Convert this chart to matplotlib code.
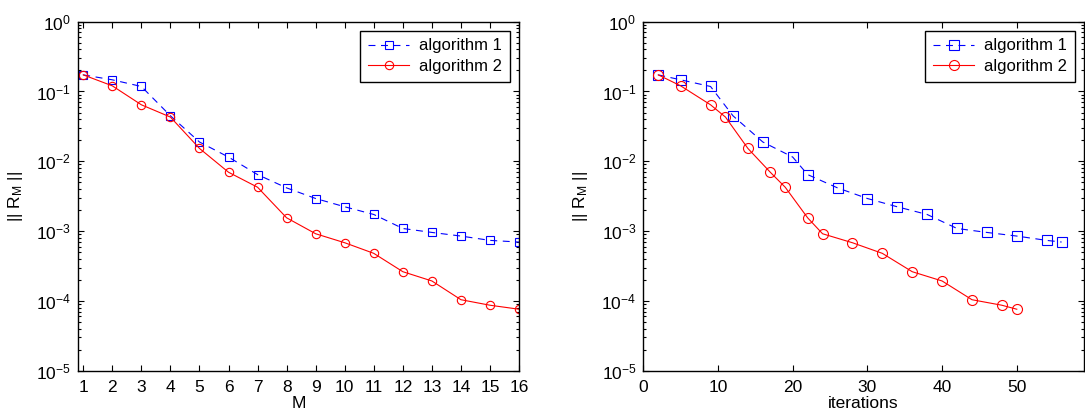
import numpy as np
import matplotlib
matplotlib.use('Agg')
import matplotlib.pyplot as plt

plt.rcParams['font.family'] = ['Liberation Sans', 'DejaVu Sans']
plt.rcParams['mathtext.fontset'] = 'custom'
plt.rcParams['mathtext.rm'] = 'Liberation Sans'
plt.rcParams['mathtext.it'] = 'Liberation Sans:italic'
plt.rcParams['mathtext.bf'] = 'Liberation Sans:bold'
plt.rcParams['lines.scale_dashes'] = False

# residual norms
M_vals = list(range(1, 17))
res_alg1 = [0.173, 0.147, 0.118, 0.0449, 0.0189, 0.0115, 0.00645, 0.00416,
            0.00293, 0.00223, 0.00173, 0.00109, 0.000957, 0.000849, 0.000736, 0.000697]
res_alg2 = [0.173, 0.1205, 0.0645, 0.043, 0.0153, 0.00697, 0.00425, 0.00155,
            0.000916, 0.000681, 0.00048, 0.000262, 0.000193, 0.000104, 0.0000867, 0.000076]

# iteration counts for the right panel
iters_alg1 = [2, 5, 9, 12, 16, 20, 22, 26, 30, 34, 38, 42, 46, 50, 54, 56]
iters_alg2 = [2, 5, 9, 11, 14, 17, 19, 22, 24, 28, 32, 36, 40, 44, 48, 50]

labels = ['algorithm 1', 'algorithm 2']
FS = 12.5
LEG_FS = 12


def style_axis(ax):
    ax.set_yscale('log')
    ax.set_ylim(1e-5, 1)
    ax.set_yticks([1e-5, 1e-4, 1e-3, 1e-2, 1e-1, 1])
    ax.tick_params(which='both', direction='in', top=True, right=True,
                   labelsize=FS, width=0.8, pad=5)
    ax.tick_params(axis='x', pad=6.5)
    ax.tick_params(which='major', length=4)
    ax.tick_params(which='minor', length=2)
    ax.minorticks_on()
    ax.xaxis.set_minor_locator(matplotlib.ticker.NullLocator())
    for s in ax.spines.values():
        s.set_linewidth(1.0)
    ax.set_ylabel(r'|| R$_\mathrm{M}$ ||', fontsize=FS, labelpad=8)
    leg = ax.legend(loc='upper right', fontsize=LEG_FS, fancybox=False,
                    framealpha=1, edgecolor='black', handlelength=2.5,
                    handletextpad=0.6, labelspacing=0.35, borderpad=0.45,
                    borderaxespad=0.55)
    leg.get_frame().set_linewidth(1.0)


fig = plt.figure(figsize=(10.85, 4.17), dpi=100)
ax1 = fig.add_axes([0.0719, 0.111, 0.4065, 0.837])
ax2 = fig.add_axes([0.5929, 0.111, 0.4062, 0.837])

ax1.plot(M_vals, res_alg1, color='blue', linestyle='--', dashes=(5, 4),
         marker='s', markersize=5.2, markerfacecolor='none', linewidth=0.8,
         markeredgewidth=0.8, label=labels[0])
ax1.plot(M_vals, res_alg2, color='red', linestyle='-', marker='o',
         markersize=6, markerfacecolor='none', linewidth=0.8,
         markeredgewidth=0.8, label=labels[1])
ax1.set_xlim(0.82, 16)
ax1.set_xticks(M_vals)
ax1.set_xlabel('M', fontsize=FS, labelpad=1)
style_axis(ax1)

ax2.plot(iters_alg1, res_alg1, color='blue', linestyle='--', dashes=(5, 4),
         marker='s', markersize=6.8, markerfacecolor='none', linewidth=0.8,
         markeredgewidth=0.8, label=labels[0])
ax2.plot(iters_alg2, res_alg2, color='red', linestyle='-', marker='o',
         markersize=7.2, markerfacecolor='none', linewidth=0.8,
         markeredgewidth=0.8, label=labels[1])
ax2.set_xlim(0, 59)
ax2.set_xticks([0, 10, 20, 30, 40, 50])
ax2.set_xlabel('iterations', fontsize=FS, labelpad=1)
style_axis(ax2)

fig.savefig('out.png', dpi=100)
